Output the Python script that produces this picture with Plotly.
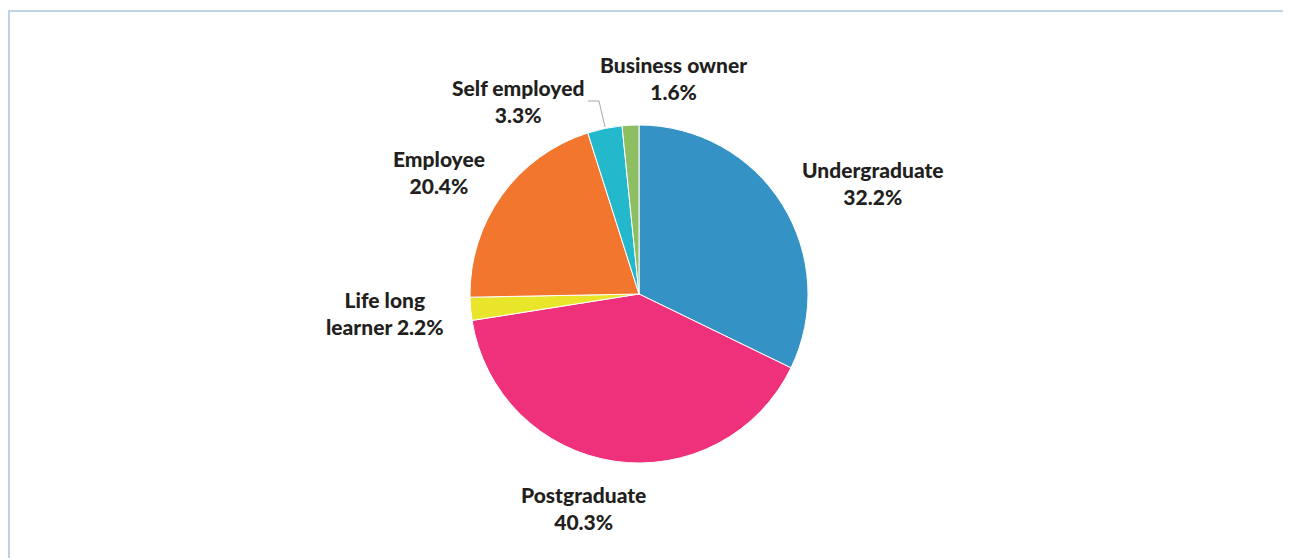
import plotly.graph_objects as go

categories = ["Undergraduate", "Postgraduate", "Life long learner", "Employee", "Self employed", "Business owner"]
values = [32.2, 40.3, 2.2, 20.4, 3.3, 1.6]
colors = ["#3592C4", "#EE317A", "#E8E52A", "#F2762E", "#24B8CC", "#8DBE62"]
label_texts = ["Undergraduate<br>32.2%", "Postgraduate<br>40.3%", "Life long<br>learner 2.2%",
               "Employee<br>20.4%", "Self employed<br>3.3%", "Business owner<br>1.6%"]
# label centres in page pixels
label_px = [(873, 182.5), (583, 507.5), (385, 313), (439, 171.5), (518, 100.5), (673, 78)]

OFF = 8  # default body margin of the page
W, H = 1283, 550
cx, cy, r = 639 - OFF, 294 - OFF, 169


def px(x, y):
    return (x - OFF) / W, 1 - (y - OFF) / H


fig = go.Figure(go.Pie(
    labels=categories, values=values, sort=False, direction="clockwise", rotation=0,
    marker=dict(colors=colors, line=dict(color="white", width=1)),
    textinfo="none", hoverinfo="label+percent", showlegend=False,
    domain=dict(x=[(cx - r) / W, (cx + r) / W], y=[1 - (cy + r) / H, 1 - (cy - r) / H]),
))

for txt, (x, y) in zip(label_texts, label_px):
    ax, ay = px(x, y)
    fig.add_annotation(x=ax, y=ay, xref="paper", yref="paper", text=txt,
                       showarrow=False, align="center", xanchor="center", yanchor="middle",
                       font=dict(family="Lato", size=21, color="#231F20", weight=900))

# leader line for Self employed
p1, p2, p3 = px(588, 101), px(599, 101), px(605, 127)
fig.add_shape(type="path", xref="paper", yref="paper",
              path=f"M {p1[0]},{p1[1]} L {p2[0]},{p2[1]} L {p3[0]},{p3[1]}",
              line=dict(color="#A8A8A8", width=1))

# frame (left and top edges)
a, b, c = px(9, 570), px(9, 11), px(1300, 11)
fig.add_shape(type="path", xref="paper", yref="paper",
              path=f"M {a[0]},{a[1]} L {b[0]},{b[1]} L {c[0]},{c[1]}",
              line=dict(color="#BDD3E8", width=2))

fig.update_layout(width=W, height=H, margin=dict(l=0, r=0, t=0, b=0),
                  paper_bgcolor="white", plot_bgcolor="white")
fig.write_html("out.html")
